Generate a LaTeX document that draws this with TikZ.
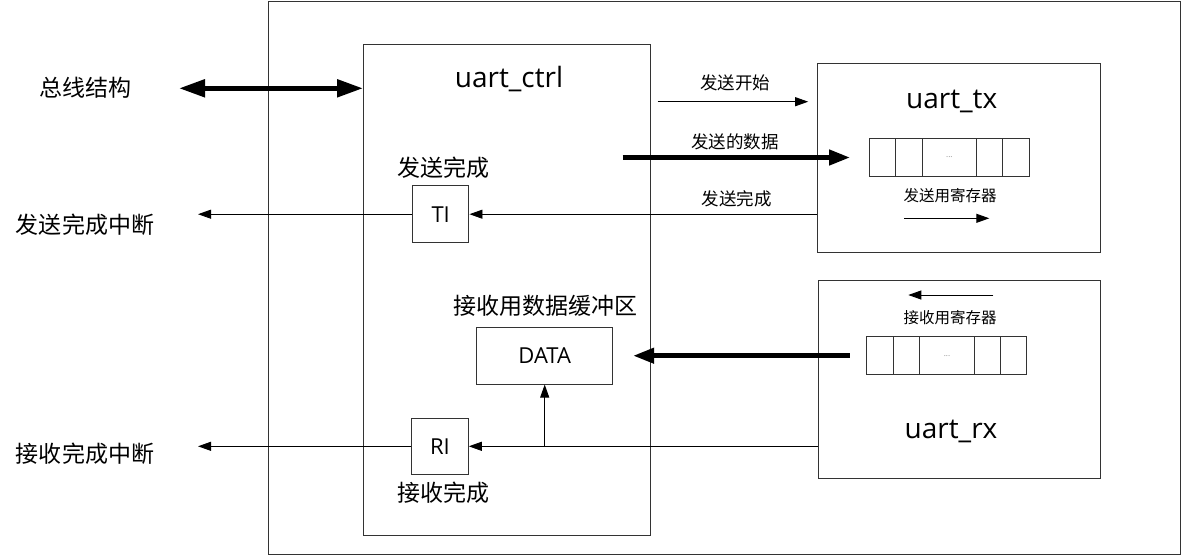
\documentclass[tikz,border=0pt]{standalone}
\usepackage{fontspec}
\setmainfont{Noto Sans CJK SC}
\newfontfamily\latfont{Open Sans}
\usetikzlibrary{arrows.meta,positioning}

\tikzset{
    block/.style={draw=black!80, line width=1pt, inner sep=0pt},
    cell/.style={draw=black!80, line width=1pt, inner sep=0pt, outer sep=0pt, minimum height=38pt},
    bigtxt/.style={inner sep=0pt, font=\fontsize{23}{27}\selectfont},
    midtxt/.style={inner sep=0pt, font=\fontsize{17.5}{21}\selectfont},
    smalltxt/.style={inner sep=0pt, font=\fontsize{15.5}{19}\selectfont},
    modtxt/.style={inner sep=0pt, anchor=base, font=\latfont\fontsize{28}{32}\selectfont},
    flagtxt/.style={font=\latfont\fontsize{22}{26}\selectfont},
    sig/.style={line width=0.9pt, -{Triangle[length=13pt,width=9pt]}},
    datflow/.style={line width=4.5pt, -{Triangle[length=21pt,width=15pt]}},
    busflow/.style={line width=5pt, {Triangle[length=26pt,width=17pt]}-{Triangle[length=26pt,width=17pt]}}
}

\begin{document}
\begin{tikzpicture}[x=1pt,y=-1pt]
    \useasboundingbox (0,0) rectangle (1182,555);

    % modules
    \node[block, minimum width=912pt, minimum height=552.7pt] (chip) at (724,277.7) {};
    \node[block, minimum width=286.5pt, minimum height=490.7pt] (ctrl) at (506.8,289.7) {};
    \node[block, minimum width=283pt, minimum height=188.7pt] (tx) at (959.2,157.7) {};
    \node[block, minimum width=282.4pt, minimum height=197.6pt] (rx) at (959.5,379.5) {};

    \node[modtxt] (ctrlname) at (509,87) {uart\_ctrl};
    \node[modtxt] (txname) at (951.7,108) {uart\_tx};
    \node[modtxt] (rxname) at (951,438) {uart\_rx};

    % flags and buffer
    \node[block, flagtxt, minimum size=56.5pt] (ti) at (440.7,214.2) {TI};
    \node[block, flagtxt, minimum size=56.5pt] (ri) at (440,446.3) {RI};
    \node[block, flagtxt, minimum width=136pt, minimum height=56.7pt] (data) at (544.7,355.7) {DATA};

    \node[bigtxt] (tilbl) at (443,168) {发送完成};
    \node[bigtxt] (rilbl) at (443,493) {接收完成};
    \node[bigtxt] (datalbl) at (545,305.7) {接收用数据缓冲区};

    % shift registers
    \foreach \r/\x/\y in {txr/869/157.5, rxr/866.7/355.7} {
        \node[cell, minimum width=26.3pt, anchor=west] (\r1) at (\x,\y) {};
        \node[cell, minimum width=26.7pt, right=0pt of \r1] (\r2) {};
        \node[cell, minimum width=54.7pt, right=0pt of \r2, text=black!45,
              font=\latfont\fontsize{8}{9}\selectfont] (\r3) {...};
        \node[cell, minimum width=26pt, right=0pt of \r3] (\r4) {};
        \node[cell, minimum width=26.3pt, right=0pt of \r4] (\r5) {};
    }
    \node[smalltxt] (txreglbl) at (950,195.7) {发送用寄存器};
    \node[smalltxt] (rxreglbl) at (950,317.7) {接收用寄存器};
    \coordinate (txa) at (904.3,218.3);
    \coordinate (txb) at (989.3,218.3);
    \coordinate (rxa) at (993.3,295);
    \coordinate (rxb) at (908.3,295);
    \draw[sig] (txa) -- (txb);
    \draw[sig] (rxa) -- (rxb);

    % outside labels
    \node[bigtxt] (bus) at (85,88) {总线结构};
    \node[bigtxt] (tiint) at (85,225) {发送完成中断};
    \node[bigtxt] (riint) at (85,453.3) {接收完成中断};

    % bus
    \coordinate (busend) at (179,88.3);
    \draw[busflow] (busend) -- (busend -| ctrl.west);

    % ctrl -> tx
    \draw[sig, shorten <=7pt, shorten >=9pt] (ctrl.east |- 0,101.7) -- (tx.west |- 0,101.7);
    \node[midtxt] (startlbl) at (735,83.3) {发送开始};
    \coordinate (txdin) at (622.7,157.5);
    \draw[datflow, shorten >=19pt] (txdin) -- (txr1.west);
    \node[midtxt] (sendlbl) at (735,141.7) {发送的数据};
    \draw[sig] (tx.west |- ti.east) -- (ti.east);
    \node[midtxt] (donelbl) at (736.7,199.3) {发送完成};

    % rx -> ctrl
    \draw[datflow, shorten <=17pt, shorten >=20pt] (rxr1.west) -- (data.east);
    \draw[sig] (rx.west |- ri.east) -- (ri.east);
    \draw[sig] (data.south |- ri.east) -- (data.south);

    % interrupts
    \coordinate (tiout) at (198,214.2);
    \coordinate (riout) at (198,446.3);
    \draw[sig] (ti.west) -- (tiout);
    \draw[sig] (ri.west) -- (riout);
\end{tikzpicture}
\end{document}
